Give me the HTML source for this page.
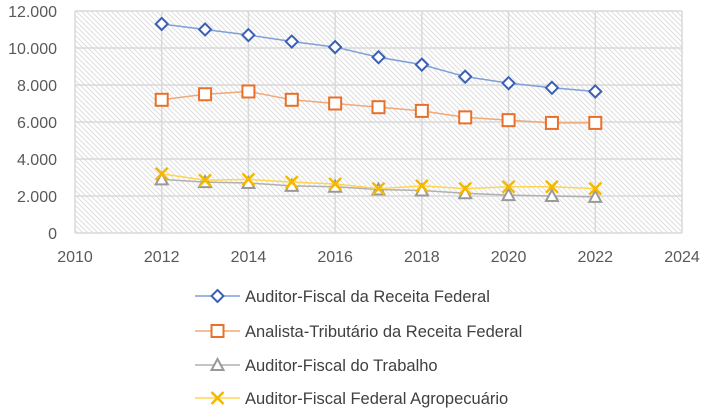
<!DOCTYPE html>
<html><head><meta charset="utf-8"><style>
html,body{margin:0;padding:0;background:#fff;}
svg{display:block;font-family:"Liberation Sans",sans-serif;}
</style></head><body>
<svg id="chart" width="708" height="416" viewBox="0 0 708 416">
<defs>
<pattern id="hatch" width="5" height="5" patternUnits="userSpaceOnUse">
<path d="M-1,-1 L6,6 M-1,4 L1,6 M4,-1 L6,1" stroke="#dedede" stroke-width="1"/>
</pattern>
</defs>
<rect x="75" y="11" width="607" height="222" fill="url(#hatch)"/>
<g id="grid"></g>
<g id="axes"></g>
<g id="series"></g>
<g id="legend"></g>
</svg>
<script>
const years=[2012,2013,2014,2015,2016,2017,2018,2019,2020,2021,2022];
const afrf=[11300,11000,10700,10350,10050,9500,9100,8450,8100,7850,7650];
const atrf=[7200,7500,7650,7200,7000,6800,6600,6250,6100,5950,5950];
const aft=[2900,2750,2700,2550,2500,2350,2300,2150,2050,2000,1950];
const affa=[3200,2850,2900,2750,2650,2400,2550,2400,2500,2500,2400];
const xTicks=[2010,2012,2014,2016,2018,2020,2022,2024];
const yTicks=[0,2000,4000,6000,8000,10000,12000];
const yTickLabels=["0","2.000","4.000","6.000","8.000","10.000","12.000"];
const seriesNames=["Auditor-Fiscal da Receita Federal","Analista-Tributário da Receita Federal","Auditor-Fiscal do Trabalho","Auditor-Fiscal Federal Agropecuário"];

const NS="http://www.w3.org/2000/svg";
const X0=75,X1=682,Y0=233,Y1=11;
const xs=v=>X0+(v-2010)/(2024-2010)*(X1-X0);
const ys=v=>Y0-v/12000*(Y0-Y1);
function mk(tag,attrs,parent){const e=document.createElementNS(NS,tag);for(const k in attrs)e.setAttribute(k,attrs[k]);parent.appendChild(e);return e;}
const grid=document.getElementById('grid'),axes=document.getElementById('axes'),ser=document.getElementById('series'),leg=document.getElementById('legend');
yTicks.forEach((t,i)=>{
 const l=mk('line',{x1:X0,x2:X1,y1:ys(t),y2:ys(t),stroke:'#d9d9d9','stroke-width':1.5},grid);
 
 
 const tx=mk('text',{x:57,y:ys(t)+6,'text-anchor':'end','font-size':16,fill:'#595959'},axes);
 tx.textContent=yTickLabels[i];
 
 
});
xTicks.forEach(t=>{
 const l=mk('line',{x1:xs(t),x2:xs(t),y1:Y1,y2:Y0,stroke:'#d9d9d9','stroke-width':1.5},grid);
 
 
 const tx=mk('text',{x:xs(t),y:262,'text-anchor':'middle','font-size':16,fill:'#595959'},axes);
 tx.textContent=t;
 
 
});
function marker(type,cx,cy,color,parent){
 if(type==='diamond')return mk('path',{d:`M${cx},${cy-6}L${cx+6},${cy}L${cx},${cy+6}L${cx-6},${cy}Z`,fill:'#fff',stroke:color,'stroke-width':2},parent);
 if(type==='square')return mk('rect',{x:cx-6,y:cy-6,width:12,height:12,fill:'#fff',stroke:color,'stroke-width':2},parent);
 if(type==='triangle')return mk('path',{d:`M${cx},${cy-6}L${cx+6},${cy+5}L${cx-6},${cy+5}Z`,fill:'#fff',stroke:color,'stroke-width':2},parent);
 return mk('path',{d:`M${cx-6},${cy-6}L${cx+6},${cy+6}M${cx+6},${cy-6}L${cx-6},${cy+6}`,stroke:color,'stroke-width':2.5,fill:'none'},parent);
}
const defs=[
 {data:afrf,line:'#7f9fd6',mk:'#3a5fb5',type:'diamond',name:'series-auditor-fiscal-receita'},
 {data:atrf,line:'#f0a878',mk:'#e8702a',type:'square',name:'series-analista-tributario'},
 {data:aft,line:'#b0b0b0',mk:'#999999',type:'triangle',name:'series-auditor-fiscal-trabalho'},
 {data:affa,line:'#ffd54f',mk:'#f5b800',type:'x',name:'series-auditor-fiscal-agropecuario'}
];
defs.forEach(d=>{
 const g=mk('g',{},ser);
 
 
 const pl=mk('polyline',{points:years.map((y,i)=>xs(y)+','+ys(d.data[i])).join(' '),fill:'none',stroke:d.line,'stroke-width':1.5},g);
 
 
 years.forEach((y,i)=>{
  const m=marker(d.type,xs(y),ys(d.data[i]),d.mk,g);
  
  
 });
});
const legY=[296,331,365,398];
defs.forEach((d,i)=>{
 const g=mk('g',{},leg);
 
 
 mk('line',{x1:195,x2:240,y1:legY[i],y2:legY[i],stroke:d.line,'stroke-width':1.5},g);
 marker(d.type,217.5,legY[i],d.mk,g);
 const t=mk('text',{x:245,y:legY[i]+6,'font-size':16.5,fill:'#404040'},g);
 t.textContent=seriesNames[i];
});
</script>
</body></html>
